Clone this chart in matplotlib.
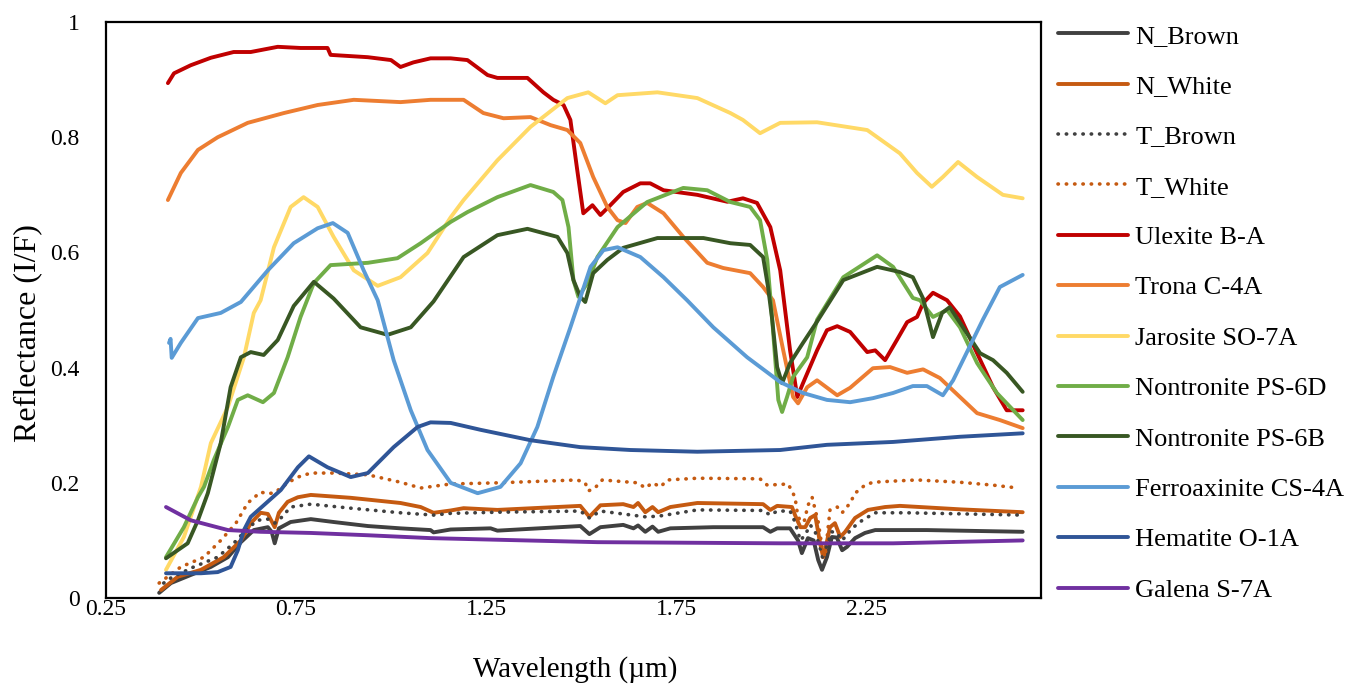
import matplotlib
matplotlib.use("Agg")
import matplotlib.pyplot as plt
from matplotlib.ticker import FixedLocator, FuncFormatter

plt.rcParams["font.family"] = ["Liberation Serif", "DejaVu Serif"]
plt.rcParams["font.size"] = 16

# ---- spectra: wavelength (um) and reflectance (I/F) ----
n_brown_wl = [0.39, 0.421, 0.473, 0.526, 0.571, 0.605, 0.639, 0.676, 0.686, 0.694, 0.705, 0.736, 0.789,
              0.849, 0.939, 1.025, 1.104, 1.112, 1.157, 1.262, 1.28, 1.498, 1.522, 1.551, 1.611, 1.638,
              1.65, 1.669, 1.688, 1.703, 1.735, 1.848, 1.979, 1.998, 2.016, 2.05, 2.071, 2.081, 2.097,
              2.112, 2.124, 2.134, 2.147, 2.16, 2.173, 2.187, 2.2, 2.221, 2.247, 2.274, 2.41, 2.662]
n_brown_r = [0.009, 0.026, 0.04, 0.054, 0.071, 0.097, 0.118, 0.123, 0.115, 0.095, 0.121, 0.132, 0.137,
             0.132, 0.125, 0.121, 0.118, 0.114, 0.119, 0.121, 0.117, 0.125, 0.111, 0.123, 0.127, 0.121,
             0.126, 0.115, 0.124, 0.115, 0.121, 0.123, 0.123, 0.115, 0.121, 0.121, 0.10, 0.078, 0.104,
             0.10, 0.066, 0.049, 0.071, 0.106, 0.105, 0.083, 0.089, 0.104, 0.113, 0.118, 0.118, 0.115]

n_white_wl = [0.395, 0.439, 0.5, 0.56, 0.605, 0.631, 0.657, 0.676, 0.694, 0.705, 0.728, 0.755, 0.789,
              0.894, 1.025, 1.078, 1.112, 1.157, 1.191, 1.28, 1.498, 1.522, 1.551, 1.611, 1.638, 1.65,
              1.669, 1.688, 1.703, 1.735, 1.806, 1.979, 1.998, 2.016, 2.055, 2.063, 2.077, 2.09, 2.103,
              2.116, 2.129, 2.137, 2.146, 2.155, 2.168, 2.182, 2.195, 2.221, 2.255, 2.30, 2.339, 2.497, 2.662]
n_white_r = [0.014, 0.037, 0.049, 0.071, 0.10, 0.13, 0.148, 0.146, 0.123, 0.148, 0.167, 0.175, 0.179,
             0.174, 0.165, 0.158, 0.148, 0.152, 0.156, 0.153, 0.16, 0.141, 0.161, 0.163, 0.158, 0.165,
             0.149, 0.158, 0.149, 0.158, 0.165, 0.163, 0.153, 0.16, 0.158, 0.144, 0.123, 0.123, 0.139,
             0.144, 0.095, 0.071, 0.095, 0.123, 0.13, 0.106, 0.115, 0.139, 0.153, 0.158, 0.16, 0.154, 0.149]

t_brown_wl = [0.402, 0.421, 0.481, 0.544, 0.586, 0.623, 0.649, 0.676, 0.694, 0.712, 0.736, 0.789, 0.894,
              1.025, 1.112, 1.157, 1.28, 1.498, 1.522, 1.551, 1.669, 1.703, 1.806, 1.979, 1.998, 2.016,
              2.05, 2.063, 2.077, 2.09, 2.103, 2.116, 2.129, 2.137, 2.146, 2.16, 2.173, 2.187, 2.213,
              2.24, 2.274, 2.358, 2.662]
t_brown_r = [0.026, 0.035, 0.054, 0.071, 0.095, 0.121, 0.135, 0.137, 0.13, 0.14, 0.158, 0.163, 0.156,
             0.148, 0.144, 0.147, 0.149, 0.151, 0.139, 0.151, 0.141, 0.142, 0.153, 0.152, 0.144, 0.151,
             0.151, 0.132, 0.10, 0.11, 0.127, 0.115, 0.087, 0.066, 0.09, 0.115, 0.113, 0.10, 0.121,
             0.135, 0.148, 0.148, 0.144]

t_white_wl = [0.39, 0.447, 0.508, 0.552, 0.592, 0.623, 0.657, 0.676, 0.694, 0.728, 0.755, 0.789, 0.849,
              0.939, 1.025, 1.078, 1.157, 1.28, 1.49, 1.511, 1.519, 1.535, 1.556, 1.65, 1.669, 1.688,
              1.709, 1.727, 1.806, 1.971, 1.99, 2.045, 2.063, 2.069, 2.077, 2.088, 2.097, 2.108, 2.124,
              2.134, 2.142, 2.155, 2.174, 2.187, 2.208, 2.221, 2.247, 2.268, 2.321, 2.384, 2.497, 2.584, 2.65]
t_white_r = [0.026, 0.054, 0.071, 0.10, 0.13, 0.165, 0.184, 0.181, 0.183, 0.20, 0.21, 0.217, 0.217,
             0.214, 0.201, 0.191, 0.198, 0.20, 0.205, 0.20, 0.186, 0.19, 0.205, 0.20, 0.191, 0.20,
             0.193, 0.205, 0.208, 0.207, 0.196, 0.198, 0.175, 0.148, 0.132, 0.135, 0.161, 0.175, 0.132,
             0.089, 0.071, 0.153, 0.158, 0.148, 0.165, 0.182, 0.196, 0.201, 0.203, 0.205, 0.201, 0.196, 0.191]

ulexite_wl = [0.413, 0.429, 0.473, 0.526, 0.586, 0.631, 0.702, 0.762, 0.833, 0.841, 0.939, 1.0, 1.025,
              1.059, 1.104, 1.157, 1.201, 1.254, 1.28, 1.359, 1.401, 1.427, 1.454, 1.472, 1.49, 1.506,
              1.53, 1.551, 1.577, 1.611, 1.656, 1.682, 1.717, 1.806, 1.885, 1.926, 1.963, 1.998, 2.024,
              2.05, 2.069, 2.084, 2.121, 2.147, 2.174, 2.208, 2.253, 2.274, 2.30, 2.331, 2.358, 2.384,
              2.40, 2.426, 2.463, 2.497, 2.542, 2.584, 2.62, 2.662]
ulexite_r = [0.894, 0.911, 0.925, 0.938, 0.948, 0.948, 0.957, 0.955, 0.955, 0.943, 0.939, 0.934, 0.922,
             0.930, 0.937, 0.937, 0.934, 0.908, 0.903, 0.903, 0.878, 0.865, 0.856, 0.830, 0.743, 0.668,
             0.682, 0.665, 0.682, 0.705, 0.720, 0.720, 0.708, 0.700, 0.688, 0.694, 0.686, 0.644, 0.569,
             0.43, 0.349, 0.373, 0.43, 0.465, 0.472, 0.462, 0.427, 0.43, 0.413, 0.448, 0.479, 0.488,
             0.512, 0.53, 0.517, 0.489, 0.425, 0.366, 0.326, 0.326]

trona_wl = [0.413, 0.447, 0.492, 0.544, 0.623, 0.718, 0.807, 0.902, 1.025, 1.104, 1.191, 1.243, 1.296,
            1.367, 1.42, 1.464, 1.498, 1.532, 1.569, 1.596, 1.617, 1.648, 1.674, 1.717, 1.769, 1.832,
            1.874, 1.945, 1.979, 2.005, 2.032, 2.058, 2.071, 2.095, 2.121, 2.174, 2.208, 2.268, 2.313,
            2.358, 2.40, 2.444, 2.497, 2.542, 2.602, 2.662]
trona_r = [0.691, 0.738, 0.778, 0.80, 0.825, 0.842, 0.856, 0.865, 0.861, 0.865, 0.865, 0.842, 0.833,
           0.835, 0.821, 0.8125, 0.79, 0.731, 0.679, 0.656, 0.651, 0.679, 0.686, 0.668, 0.627, 0.582,
           0.573, 0.564, 0.54, 0.517, 0.43, 0.349, 0.338, 0.366, 0.378, 0.352, 0.365, 0.399, 0.401,
           0.391, 0.397, 0.382, 0.349, 0.321, 0.309, 0.295]

jarosite_wl = [0.408, 0.455, 0.50, 0.526, 0.571, 0.613, 0.639, 0.657, 0.692, 0.736, 0.77, 0.807, 0.849,
               0.902, 0.965, 1.025, 1.096, 1.157, 1.191, 1.28, 1.367, 1.464, 1.519, 1.564, 1.596, 1.701,
               1.806, 1.893, 1.926, 1.971, 2.024, 2.121, 2.253, 2.339, 2.384, 2.423, 2.452, 2.492, 2.542,
               2.61, 2.662]
jarosite_r = [0.049, 0.106, 0.193, 0.269, 0.332, 0.418, 0.495, 0.517, 0.609, 0.679, 0.696, 0.679, 0.627,
              0.569, 0.542, 0.557, 0.599, 0.661, 0.691, 0.76, 0.818, 0.868, 0.878, 0.859, 0.873, 0.878,
              0.868, 0.842, 0.83, 0.807, 0.825, 0.826, 0.8125, 0.772, 0.738, 0.714, 0.731, 0.757, 0.731,
              0.70, 0.694]

nontronite_6d_wl = [0.408, 0.455, 0.492, 0.508, 0.534, 0.571, 0.597, 0.623, 0.663, 0.692, 0.728, 0.762,
                    0.797, 0.841, 0.939, 1.017, 1.078, 1.157, 1.201, 1.28, 1.367, 1.427, 1.451, 1.467,
                    1.48, 1.493, 1.517, 1.543, 1.596, 1.674, 1.769, 1.832, 1.893, 1.945, 1.971, 1.99,
                    2.003, 2.019, 2.029, 2.042, 2.058, 2.095, 2.121, 2.19, 2.279, 2.321, 2.373, 2.392,
                    2.426, 2.463, 2.497, 2.542, 2.594, 2.662]
nontronite_6d_r = [0.071, 0.123, 0.175, 0.193, 0.24, 0.297, 0.344, 0.352, 0.34, 0.356, 0.418, 0.488,
                   0.547, 0.578, 0.582, 0.59, 0.616, 0.653, 0.670, 0.696, 0.717, 0.705, 0.691, 0.644,
                   0.552, 0.523, 0.547, 0.592, 0.644, 0.6875, 0.712, 0.708, 0.6875, 0.679, 0.656, 0.587,
                   0.483, 0.344, 0.323, 0.349, 0.384, 0.418, 0.483, 0.557, 0.595, 0.575, 0.521, 0.517,
                   0.488, 0.50, 0.47, 0.408, 0.356, 0.309]

nontronite_6b_wl = [0.408, 0.465, 0.492, 0.518, 0.552, 0.578, 0.605, 0.631, 0.665, 0.702, 0.744, 0.797,
                    0.849, 0.92, 0.991, 1.052, 1.112, 1.191, 1.28, 1.359, 1.438, 1.464, 1.48, 1.498,
                    1.511, 1.532, 1.569, 1.611, 1.701, 1.822, 1.893, 1.945, 1.979, 1.992, 2.003, 2.016,
                    2.029, 2.05, 2.084, 2.121, 2.19, 2.279, 2.339, 2.373, 2.40, 2.426, 2.45, 2.47, 2.505,
                    2.55, 2.584, 2.62, 2.662]
nontronite_6b_r = [0.069, 0.095, 0.135, 0.182, 0.269, 0.366, 0.418, 0.427, 0.422, 0.448, 0.507, 0.549,
                   0.52, 0.47, 0.457, 0.47, 0.515, 0.592, 0.63, 0.641, 0.627, 0.599, 0.552, 0.523,
                   0.514, 0.564, 0.587, 0.608, 0.625, 0.625, 0.616, 0.613, 0.592, 0.54, 0.483, 0.401,
                   0.373, 0.408, 0.443, 0.48, 0.552, 0.575, 0.566, 0.557, 0.52, 0.453, 0.495, 0.505, 0.47,
                   0.425, 0.413, 0.391, 0.358]

ferroaxinite_wl = [0.416, 0.42, 0.423, 0.447, 0.492, 0.552, 0.605, 0.676, 0.744, 0.807, 0.847, 0.886,
                   0.928, 0.965, 1.007, 1.052, 1.096, 1.157, 1.228, 1.288, 1.341, 1.385, 1.427, 1.472,
                   1.525, 1.559, 1.596, 1.656, 1.717, 1.779, 1.848, 1.937, 2.024, 2.084, 2.147, 2.208,
                   2.268, 2.321, 2.373, 2.41, 2.452, 2.479, 2.505, 2.531, 2.557, 2.602, 2.662]
ferroaxinite_r = [0.443, 0.45, 0.417, 0.443, 0.486, 0.495, 0.514, 0.569, 0.616, 0.642, 0.651, 0.634,
                  0.569, 0.517, 0.413, 0.326, 0.257, 0.20, 0.182, 0.193, 0.234, 0.297, 0.384, 0.47,
                  0.575, 0.604, 0.609, 0.592, 0.557, 0.517, 0.47, 0.418, 0.375, 0.356, 0.344, 0.34,
                  0.347, 0.356, 0.368, 0.368, 0.352, 0.378, 0.413, 0.448, 0.483, 0.54, 0.561]

hematite_wl = [0.408, 0.50, 0.544, 0.578, 0.597, 0.613, 0.631, 0.665, 0.71, 0.755, 0.784, 0.833, 0.894,
               0.939, 1.007, 1.07, 1.104, 1.157, 1.236, 1.367, 1.498, 1.63, 1.806, 2.024, 2.147, 2.321,
               2.497, 2.662]
hematite_r = [0.043, 0.043, 0.045, 0.054, 0.083, 0.118, 0.141, 0.161, 0.1875, 0.227, 0.246, 0.227, 0.21,
              0.217, 0.262, 0.297, 0.305, 0.304, 0.292, 0.274, 0.262, 0.257, 0.254, 0.257, 0.266, 0.271,
              0.28, 0.286]

galena_wl = [0.408, 0.473, 0.571, 0.657, 0.789, 0.939, 1.104, 1.543, 2.024, 2.321, 2.662]
galena_r = [0.158, 0.135, 0.118, 0.115, 0.113, 0.109, 0.104, 0.097, 0.095, 0.095, 0.10]

x_ticks = [0.25, 0.75, 1.25, 1.75, 2.25]
y_ticks = [0, 0.2, 0.4, 0.6, 0.8, 1]

# name, x, y, colour, dotted?
series = [
    ("N_Brown", n_brown_wl, n_brown_r, "#404040", False),
    ("N_White", n_white_wl, n_white_r, "#C55A11", False),
    ("T_Brown", t_brown_wl, t_brown_r, "#404040", True),
    ("T_White", t_white_wl, t_white_r, "#C55A11", True),
    ("Ulexite B-A", ulexite_wl, ulexite_r, "#C00000", False),
    ("Trona C-4A", trona_wl, trona_r, "#ED7D31", False),
    ("Jarosite SO-7A", jarosite_wl, jarosite_r, "#FFD966", False),
    ("Nontronite PS-6D", nontronite_6d_wl, nontronite_6d_r, "#70AD47", False),
    ("Nontronite PS-6B", nontronite_6b_wl, nontronite_6b_r, "#385723", False),
    ("Ferroaxinite CS-4A", ferroaxinite_wl, ferroaxinite_r, "#5B9BD5", False),
    ("Hematite O-1A", hematite_wl, hematite_r, "#2F5597", False),
    ("Galena S-7A", galena_wl, galena_r, "#7030A0", False),
]

fig = plt.figure(figsize=(13.48, 6.87), dpi=100)
ax = fig.add_axes([0.0786, 0.1295, 0.6936, 0.8384])

for name, wl, r, color, dotted in series:
    if dotted:
        ax.plot(wl, r, color=color, lw=2.6, linestyle=(0, (0.1, 2.2)),
                dash_capstyle="round", label=name)
    else:
        ax.plot(wl, r, color=color, lw=2.8, solid_joinstyle="round",
                solid_capstyle="round", label=name)

ax.set_xlim(0.25, 2.71)
ax.set_ylim(0, 1)
ax.xaxis.set_major_locator(FixedLocator(x_ticks))
ax.yaxis.set_major_locator(FixedLocator(y_ticks))
ax.xaxis.set_major_formatter(FuncFormatter(lambda v, p: f"{v:g}"))
ax.yaxis.set_major_formatter(FuncFormatter(lambda v, p: f"{v:g}"))
ax.tick_params(axis="both", length=0, labelsize=17)
ax.tick_params(axis="y", pad=19)
ax.tick_params(axis="x", pad=1)
for sp in ax.spines.values():
    sp.set_linewidth(1.6)
    sp.set_color("black")

# axis titles placed in figure coordinates
fig.text(575 / 1348, 1 - 670 / 687, "Wavelength (\u00b5m)", fontsize=21,
         ha="center", va="center")
fig.text(28 / 1348, 1 - 333 / 687, "Reflectance (I/F)", fontsize=23,
         rotation=90, ha="center", va="center")

ax.legend(loc="upper left", bbox_to_anchor=(0.785, 0.965), bbox_transform=fig.transFigure,
          frameon=False, fontsize=19, handlelength=2.65, handletextpad=0.27,
          labelspacing=1.02, borderpad=0, borderaxespad=0)

fig.savefig("out.png", dpi=100)
